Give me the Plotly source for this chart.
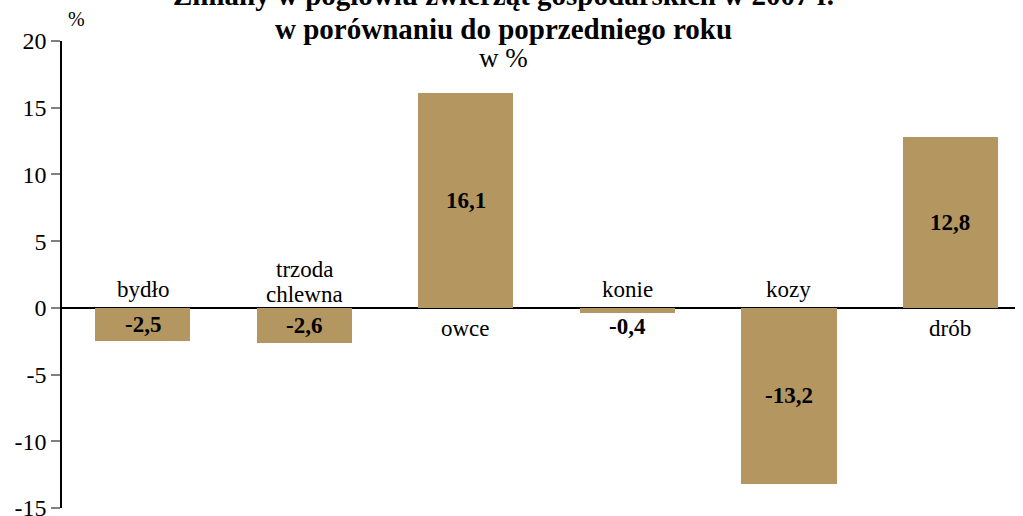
import plotly.graph_objects as go

categories = ["bydło", "trzoda<br>chlewna", "owce", "konie", "kozy", "drób"]
values = [-2.5, -2.6, 16.1, -0.4, -13.2, 12.8]
value_labels = ["-2,5", "-2,6", "16,1", "-0,4", "-13,2", "12,8"]
tick_vals = [-15, -10, -5, 0, 5, 10, 15, 20]

x_idx = list(range(len(categories)))
bar_color = "#B39660"
serif = "'Liberation Serif', 'Times New Roman', serif"

fig = go.Figure()
fig.add_trace(go.Bar(x=x_idx, y=values, width=0.59, marker=dict(color=bar_color, line=dict(width=0)),
                     hoverinfo="skip"))

annotations = []
for i, (v, cat, lab) in enumerate(zip(values, categories, value_labels)):
    lines = cat.split("<br>")
    if v < 0:
        # name above the zero line
        base = 4 if len(lines) == 1 else -1
        for k, line in enumerate(reversed(lines)):
            annotations.append(dict(x=i, y=0, xref="x", yref="y", text=line, showarrow=False,
                                    yanchor="bottom", yshift=base + 25 * k,
                                    font=dict(family=serif, size=23, color="#000")))
    else:
        # name below the zero line
        for k, line in enumerate(lines):
            annotations.append(dict(x=i, y=0, xref="x", yref="y", text=line, showarrow=False,
                                    yanchor="top", yshift=-6 - 25 * k,
                                    font=dict(family=serif, size=23, color="#000")))
    ly = v / 2 if abs(v) >= 1 else v - 1.0
    annotations.append(dict(x=i, y=ly, xref="x", yref="y", text="<b>" + lab + "</b>", showarrow=False,
                            yanchor="middle", font=dict(family=serif, size=23, color="#000")))

annotations += [
    dict(x=0.463, y=1.0, xref="paper", yref="paper", yshift=46,
         text="<b>Zmiany w pogłowiu zwierząt gospodarskich w 2007 r.</b>", showarrow=False,
         yanchor="middle", font=dict(family=serif, size=29, color="#000")),
    dict(x=0.463, y=1.0, xref="paper", yref="paper", yshift=12,
         text="<b>w porównaniu do poprzedniego roku</b>", showarrow=False,
         yanchor="middle", font=dict(family=serif, size=29, color="#000")),
    dict(x=0.463, y=1.0, xref="paper", yref="paper", yshift=-17,
         text="w %", showarrow=False,
         yanchor="middle", font=dict(family=serif, size=27, color="#000")),
    dict(x=0.0, y=1.0, xref="paper", yref="paper", xshift=4, yshift=22,
         text="%", showarrow=False,
         yanchor="middle", font=dict(family=serif, size=20, color="#000")),
]

fig.update_layout(
    width=1023, height=516,
    margin=dict(l=62, r=8, t=41, b=8, autoexpand=False),
    paper_bgcolor="white", plot_bgcolor="white",
    showlegend=False,
    annotations=annotations,
    bargap=0,
    font=dict(family=serif),
)
fig.update_xaxes(range=[-0.5, 5.4], showticklabels=False, showgrid=False, zeroline=False,
                 showline=False, ticks="", automargin=False)
fig.update_yaxes(range=[-15, 20], tickvals=tick_vals, ticktext=[str(t) for t in tick_vals],
                 showgrid=False, zeroline=True, zerolinecolor="#000", zerolinewidth=1.5,
                 showline=True, linecolor="#000", linewidth=1.5,
                 ticks="outside", ticklen=9, tickcolor="#808080", tickwidth=1.5,
                 ticklabeloverflow="allow", automargin=False,
                 tickfont=dict(family=serif, size=24, color="#000"))

fig.write_html("out.html", config={"displayModeBar": False},
               post_script="document.body.style.margin='0';document.body.style.overflow='hidden';")
